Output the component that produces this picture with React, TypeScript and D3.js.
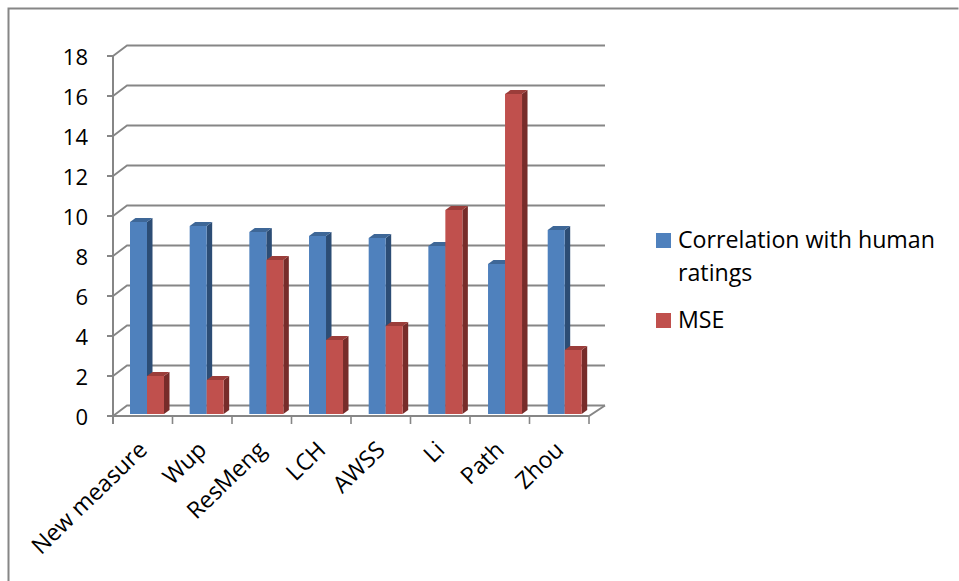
import React from "react";
import * as d3 from "d3";

const categories = ["New measure", "Wup", "ResMeng", "LCH", "AWSS", "Li", "Path", "Zhou"];
const correlation = [9.6, 9.4, 9.1, 8.9, 8.8, 8.4, 7.5, 9.2];
const mse = [1.9, 1.7, 7.7, 3.7, 4.4, 10.2, 16, 3.2];
const yTicks = [0, 2, 4, 6, 8, 10, 12, 14, 16, 18];

const FONT = "'Open Sans', sans-serif";
const FONT_SIZE = 23.2;
const TICK_FONT_SIZE = 22;
const GRID = "#868686";
const depthX = 14;
const depthY = 10.5;
const barDepthX = 5.5;
const barDepthY = 4;
const barWidth = 17;

const y = d3.scaleLinear().domain([0, 18]).range([416, 56]);
const x = d3.scaleLinear().domain([0, 8]).range([113, 589]);
const barX = d3.scaleLinear().domain([0, 7]).range([130, 547.7]);
const barBase = 414;
const barY = (v: number) => barBase - (y(0) - y(v));

// One extruded column: front face, darker right side, lighter-dark top.
function Bar({ left, value, front, side, top }: { left: number; value: number; front: string; side: string; top: string }) {
  const t = barY(value);
  const r = left + barWidth;
  const poly = (pts: [number, number][]) => pts.map((p) => p.join(",")).join(" ");
  return (
    <g>
      <polygon fill={side} points={poly([[r, t], [r + barDepthX, t - barDepthY], [r + barDepthX, barBase - barDepthY], [r, barBase]])} />
      <polygon fill={top} points={poly([[left, t], [left + barDepthX, t - barDepthY], [r + barDepthX, t - barDepthY], [r, t]])} />
      <rect x={left} y={t} width={barWidth} height={barBase - t} fill={front} />
    </g>
  );
}

export default function App() {
  return (
    <svg width={959} height={581} style={{ position: "fixed", left: 0, top: 0, background: "#fff" }}>
      {/* outer frame */}
      <path d="M958.5,8.5 H8.5 V581" fill="none" stroke={GRID} strokeWidth={2} />

      {/* back wall gridlines with their slanted side-wall segments */}
      {yTicks.map((t) => (
        <path
          key={t}
          d={`M${x(0) - 6},${y(t)} H${x(0)} L${x(0) + depthX},${y(t) - depthY} H${x(8) + depthX + 2}`}
          fill="none"
          stroke={GRID}
          strokeWidth={1.8}
        />
      ))}
      {/* floor front edge and right slant */}
      <path d={`M${x(0)},${y(0)} H${x(8)} L${x(8) + depthX + 2},${y(0) - depthY}`} fill="none" stroke={GRID} strokeWidth={2} />
      {/* value axis */}
      <line x1={x(0)} x2={x(0)} y1={y(18)} y2={y(0) + 8} stroke={GRID} strokeWidth={2} />
      {/* category ticks */}
      {d3.range(1, 9).map((i) => (
        <line key={i} x1={x(i)} x2={x(i)} y1={y(0)} y2={y(0) + 8} stroke={GRID} strokeWidth={1.6} />
      ))}

      {categories.map((c, i) => (
        <g key={c}>
          <Bar left={barX(i)} value={correlation[i]} front="#4f81bd" side="#2c4d75" top="#3e6797" />
          <Bar left={barX(i) + barWidth} value={mse[i]} front="#c0504d" side="#772c2a" top="#9b3d3a" />
        </g>
      ))}

      {yTicks.map((t) => (
        <text key={t} x={88} y={y(t) + 9} textAnchor="end" fontFamily={FONT} fontSize={TICK_FONT_SIZE} fill="#000">
          {t}
        </text>
      ))}

      {categories.map((c, i) => (
        <text
          key={c}
          transform={`translate(${x(i) + 35.5},${451.5}) rotate(-44)`}
          textAnchor="end"
          fontFamily={FONT}
          fontSize={FONT_SIZE}
          fill="#000"
        >
          {c}
        </text>
      ))}

      {/* legend */}
      <rect x={656} y={233} width={15} height={15} fill="#4f81bd" />
      <text x={678} y={248} fontFamily={FONT} fontSize={FONT_SIZE} fill="#000">Correlation with human</text>
      <text x={678} y={281} fontFamily={FONT} fontSize={FONT_SIZE} fill="#000">ratings</text>
      <rect x={656} y={313} width={15} height={15} fill="#c0504d" />
      <text x={678} y={328} fontFamily={FONT} fontSize={FONT_SIZE} fill="#000">MSE</text>
    </svg>
  );
}
